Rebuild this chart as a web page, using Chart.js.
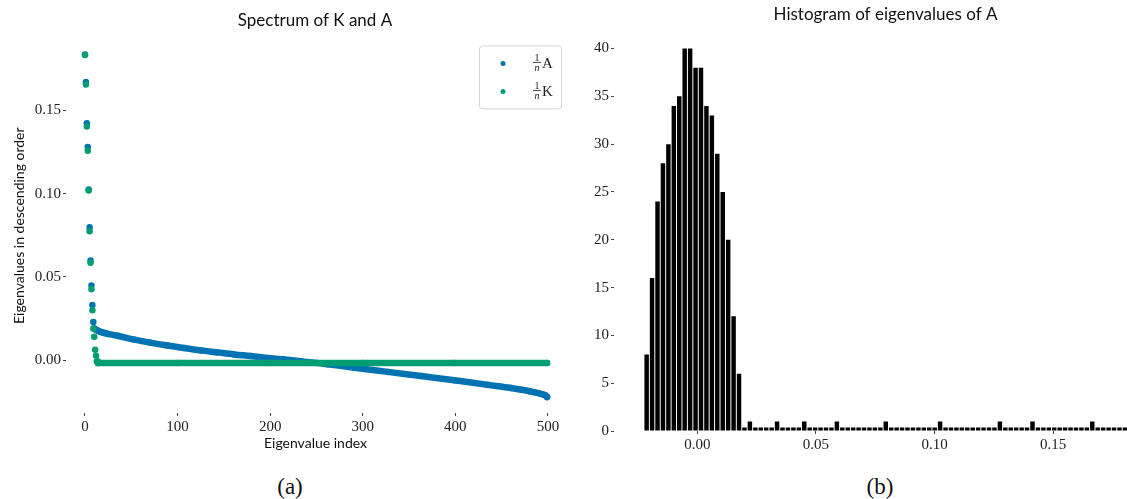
<!DOCTYPE html>
<html>
<head>
<meta charset="utf-8">
<script src="https://cdn.jsdelivr.net/npm/chart.js@4.4.0/dist/chart.umd.min.js"></script>
<style>
  html, body { margin: 0; padding: 0; background: #fff; overflow: hidden; }
  #page { position: relative; width: 1127px; height: 499px; overflow: hidden; background: #fff; }
  #spec { position: absolute; left: 0; top: 0; }
  #hist { position: absolute; left: 560px; top: 0; }
  .cap { position: absolute; top: 475px; width: 100px; text-align: center;
         font: 23px "Liberation Serif", serif; color: #111; line-height: 24px; }
</style>
</head>
<body>
<div id="page">
  <canvas id="spec" width="630" height="460"></canvas>
  <canvas id="hist" width="651" height="460"></canvas>
  <div class="cap" style="left:240px">(a)</div>
  <div class="cap" style="left:830px">(b)</div>
</div>
<script>
// eigenvalues of (1/n)A, read at these indices
const aIndex = [0, 1, 2, 3, 4, 5, 6, 7, 8, 9,
  10, 12, 14, 17, 20, 25, 35, 53, 70, 89, 107, 125, 143, 161, 179, 197, 215,
  233, 250, 262, 291, 327, 363, 399, 435, 460, 471, 480, 485, 490, 494, 497, 499];
const aValue = [0.1836, 0.1670, 0.1423, 0.1279, 0.1024, 0.0797, 0.0598, 0.0448, 0.0330, 0.0229,
  0.0190, 0.0182, 0.0176, 0.0169, 0.0164, 0.0157, 0.0146, 0.0123, 0.0105, 0.0087, 0.0072, 0.0058, 0.0046, 0.0034, 0.0024, 0.0013, 0.0003,
  -0.0007, -0.0017, -0.0025, -0.0046, -0.0071, -0.0096, -0.0121, -0.0149, -0.0168, -0.0178, -0.0187, -0.0193, -0.0199, -0.0205, -0.0212, -0.0222];
// eigenvalues of (1/n)K
const kIndex = [0, 1, 2, 3, 4, 5, 6, 7, 8, 9, 10, 11, 12, 13, 14, 100, 200, 300, 400, 499];
const kValue = [0.1832, 0.1655, 0.1403, 0.1257, 0.1018, 0.0774, 0.0585, 0.0425, 0.0299, 0.0190,
  0.0140, 0.0062, 0.0026, -0.0008, -0.0018, -0.0018, -0.0018, -0.0018, -0.0018, -0.0018];
const aSpikes = 10;   // first points drawn as separate dots
const kSpikes = 13;

const specXTicks = [0, 100, 200, 300, 400, 500];
const specYTicks = [0, 0.05, 0.10, 0.15];

// histogram of eigenvalues of A
const histStart = -0.0226;
const histWidth = 0.002293;
const histCounts = [
  8, 16, 24, 28, 30, 34, 35, 40, 40, 38, 38, 34, 33, 29, 25, 20, 12, 6,
  0, 1, 0, 0, 0, 0, 1, 0, 0, 0, 0, 1,
  0, 0, 0, 0, 0, 1, 0, 0, 0, 0, 0, 0, 0, 0, 1,
  0, 0, 0, 0, 0, 0, 0, 0, 0, 1,
  0, 0, 0, 0, 0, 0, 0, 0, 0, 0, 1,
  0, 0, 0, 0, 0, 1,
  0, 0, 0, 0, 0, 0, 0, 0, 0, 0, 1,
  0, 0, 0, 0, 0, 0, 1
];
const histXTicks = [0, 0.05, 0.10, 0.15];
const histYTicks = [0, 5, 10, 15, 20, 25, 30, 35, 40];

const blue = '#0173B2';
const green = '#029E73';
const serif = '"Liberation Serif", "DejaVu Serif", serif';
const sans = 'Lato, "Noto Sans", sans-serif';

const tickFont = { family: serif, size: 15 };
const tickGrid = { display: true, drawOnChartArea: false, drawTicks: true, tickLength: 3, tickWidth: 1, tickColor: '#444' };
const fixTicks = (vals) => (scale) => { scale.ticks = vals.map(v => ({ value: v })); };
const blankAxis = (w) => ({
    type: 'linear', position: 'right', display: true,
    grid: { display: false }, border: { display: false }, ticks: { display: false },
    afterFit: (s) => { s.width = w; }
});

// legend box drawn inside the plot, top right
const legendBox = {
    id: 'legendBox',
    afterDatasetsDraw(chart) {
        const { ctx, chartArea } = chart;
        const w = 82, h = 63;
        const x = chartArea.right - w - 4, y = chartArea.top + 7;
        ctx.save();
        ctx.beginPath();
        ctx.roundRect(x + 0.5, y + 0.5, w, h, 3);
        ctx.fillStyle = 'rgba(255,255,255,0.85)';
        ctx.fill();
        ctx.strokeStyle = '#d4d4d4';
        ctx.lineWidth = 1;
        ctx.stroke();
        chart.data.datasets.forEach((ds, i) => {
            const cy = y + 18 + i * 28;
            ctx.fillStyle = ds.backgroundColor;
            ctx.beginPath();
            ctx.arc(x + 24, cy, 2.5, 0, Math.PI * 2);
            ctx.fill();
            ctx.fillStyle = '#222';
            ctx.textAlign = 'center';
            ctx.textBaseline = 'alphabetic';
            ctx.font = '10px ' + serif;
            ctx.fillText('1', x + 58, cy - 2.5);
            ctx.fillRect(x + 54, cy - 1.2, 8, 0.8);
            ctx.font = 'italic 10px ' + serif;
            ctx.fillText('n', x + 58, cy + 7.5);
            ctx.textAlign = 'left';
            ctx.font = '15px ' + serif;
            ctx.fillText(ds.label, x + 63, cy + 5);
        });
        ctx.restore();
    }
};

new Chart(document.getElementById('spec'), {
    type: 'scatter',
    data: {
        datasets: [
            {
                label: 'A',
                data: aIndex.map((x, i) => ({ x, y: aValue[i] })),
                backgroundColor: blue, borderColor: blue,
                showLine: true, borderWidth: 6.5, borderCapStyle: 'round', borderJoinStyle: 'round',
                cubicInterpolationMode: 'monotone',
                pointRadius: 3.25, pointBorderWidth: 0, order: 2,
                segment: { borderColor: (c) => c.p0DataIndex < aSpikes ? 'transparent' : blue }
            },
            {
                label: 'K',
                data: kIndex.map((x, i) => ({ x, y: kValue[i] })),
                backgroundColor: green, borderColor: green,
                showLine: true, borderWidth: 6.5, borderCapStyle: 'round', borderJoinStyle: 'round',
                pointRadius: 3.25, pointBorderWidth: 0, order: 1,
                segment: { borderColor: (c) => c.p0DataIndex < kSpikes ? 'transparent' : green }
            }
        ]
    },
    options: {
        responsive: false,
        animation: false,
        events: [],
        layout: { padding: 0 },
        plugins: {
            legend: { display: false },
            tooltip: { enabled: false },
            title: {
                display: true, text: 'Spectrum of K and A', color: '#111',
                font: { family: sans, size: 17, weight: 'normal' },
                padding: { top: 10, bottom: 8 }
            }
        },
        scales: {
            x: {
                type: 'linear', min: -20.5, max: 518.4,
                afterBuildTicks: fixTicks(specXTicks),
                afterFit: (s) => { s.height = 47; },
                grid: tickGrid, border: { display: false },
                ticks: { font: tickFont, color: '#222', padding: 2, maxRotation: 0, callback: (v) => String(v) },
                title: { display: true, text: 'Eigenvalue index', color: '#111',
                         font: { family: sans, size: 14 }, padding: { top: 0, bottom: 8.6 } }
            },
            y: {
                type: 'linear', min: -0.0318, max: 0.1932,
                afterBuildTicks: fixTicks(specYTicks),
                afterFit: (s) => { s.width = 66; },
                grid: tickGrid, border: { display: false },
                ticks: { font: tickFont, color: '#222', padding: 2, callback: (v) => v.toFixed(2) },
                title: { display: true, text: 'Eigenvalues in descending order', color: '#111',
                         font: { family: sans, size: 14 }, padding: { top: 11, bottom: 0 } }
            },
            y2: blankAxis(65)
        }
    },
    plugins: [legendBox]
});

new Chart(document.getElementById('hist'), {
    type: 'bar',
    data: {
        datasets: [{
            label: 'A',
            data: histCounts.map((c, i) => ({ x: histStart + (i + 0.5) * histWidth, y: c })),
            backgroundColor: '#000',
            barPercentage: 0.82, categoryPercentage: 1, minBarLength: 3.5
        }]
    },
    options: {
        responsive: false,
        animation: false,
        events: [],
        layout: { padding: 0 },
        plugins: {
            legend: { display: false },
            tooltip: { enabled: false },
            title: {
                display: true, text: 'Histogram of eigenvalues of A', color: '#111',
                font: { family: sans, size: 17, weight: 'normal' },
                padding: { top: 4, bottom: 5 }
            }
        },
        scales: {
            x: {
                type: 'linear', min: -0.03523, max: 0.19388, offset: false,
                afterBuildTicks: fixTicks(histXTicks),
                afterFit: (s) => { s.height = 29; },
                grid: Object.assign({}, tickGrid, { offset: false }), border: { display: false },
                ticks: { font: tickFont, color: '#222', padding: 2, maxRotation: 0, callback: (v) => v.toFixed(2) }
            },
            y: {
                type: 'linear', min: 0, max: 42,
                afterBuildTicks: fixTicks(histYTicks),
                afterFit: (s) => { s.width = 54; },
                grid: tickGrid, border: { display: false },
                ticks: { font: tickFont, color: '#222', padding: 2, callback: (v) => String(v) }
            },
            y2: blankAxis(54)
        }
    }
});
</script>
</body>
</html>
